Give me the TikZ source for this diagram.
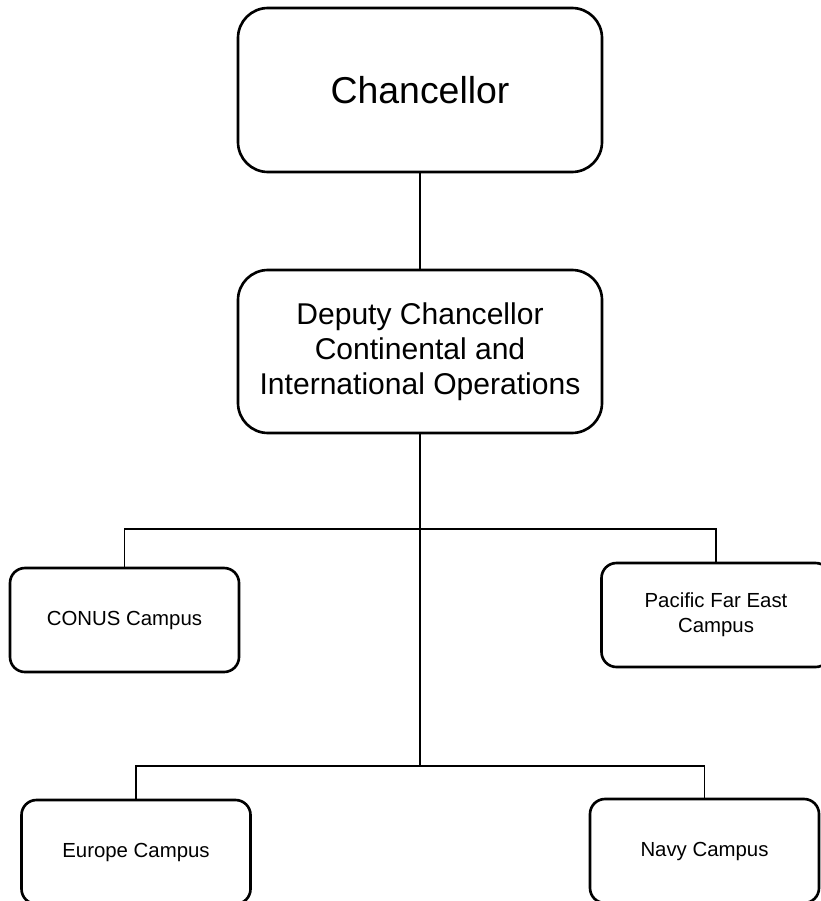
\documentclass[tikz,border=0pt]{standalone}
\usepackage{fontspec}
\setmainfont{Liberation Sans}
\begin{document}
\begin{tikzpicture}[
  bigbox/.style={draw, line width=1.5pt, rounded corners=0.6cm, align=center,
    minimum width=7.28cm, minimum height=3.28cm},
  campus/.style={draw, line width=1.5pt, rounded corners=0.3cm, align=center,
    minimum width=4.58cm, minimum height=2.08cm, font=\fontsize{11.6}{14.2}\selectfont},
  link/.style={line width=1.1pt}]
\useasboundingbox (0,0) rectangle (16.4,-18.02);
\node[bigbox, font=\fontsize{21.3}{26}\selectfont] (chancellor) at (8.4,-1.8) {Chancellor};
\node[bigbox, minimum height=3.26cm, font=\fontsize{17.1}{19.9}\selectfont] (deputy) at (8.4,-7.03)
  {Deputy Chancellor\\Continental and\\International Operations};
\node[campus] (conus) at (2.49,-12.4) {CONUS Campus};
\node[campus] (pacific) at (14.32,-12.3) {Pacific Far East\\Campus};
\node[campus] (europe) at (2.72,-17.04) {Europe Campus};
\node[campus] (navy) at (14.09,-17.02) {Navy Campus};
\coordinate (upfork) at (8.4,-10.58);    % first branch
\coordinate (lowfork) at (8.4,-15.32);   % second branch
\draw[link] (chancellor.south) -- (deputy.north);
\draw[link] (deputy.south) -- (lowfork);
\draw[link] (conus.north) |- (upfork) -| (pacific.north);
\draw[link] (europe.north) |- (lowfork) -| (navy.north);
\end{tikzpicture}
\end{document}
